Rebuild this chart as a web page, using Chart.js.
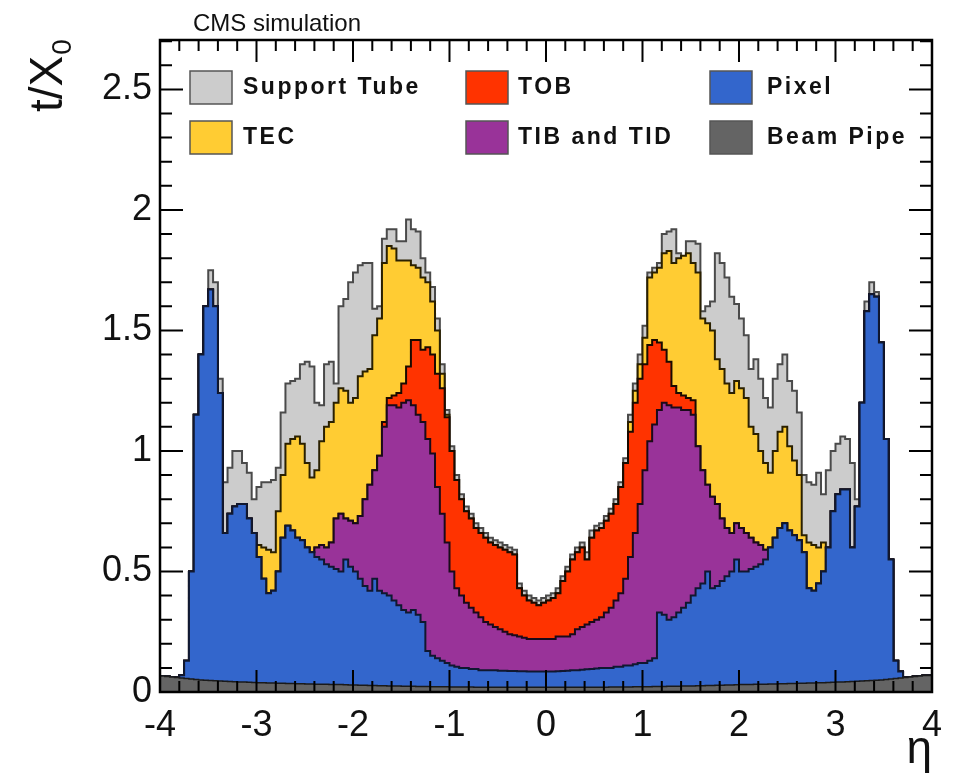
<!DOCTYPE html>
<html>
<head>
<meta charset="utf-8">
<script src="https://cdn.jsdelivr.net/npm/chart.js@4.4.1/dist/chart.umd.min.js"></script>
<style>
html,body{margin:0;padding:0;background:#fff;}
canvas{display:block;}
</style>
</head>
<body>
<canvas id="c" width="954" height="778"></canvas>
<script>
// ---- axis definition ----
const etaMin = -4, etaMax = 4, nBins = 160;
const xTickValues = [-4, -3, -2, -1, 0, 1, 2, 3, 4];
const xTickLabels = ['-4', '-3', '-2', '-1', '0', '1', '2', '3', '4'];
const yTickValues = [0, 0.5, 1, 1.5, 2, 2.5];
const yTickLabels = ['0', '0.5', '1', '1.5', '2', '2.5'];
const seriesNames = ['Beam Pipe', 'Pixel', 'TIB and TID', 'TOB', 'TEC', 'Support Tube'];

// ---- cumulative stack tops (t/X0) per eta bin of width 0.05 ----
const beamPipeTop = [
.068,.066,.064,.062,.060,.058,.056,.054,.052,.050,
.049,.048,.047,.046,.045,.044,.043,.042,.041,.040,
.039,.038,.038,.037,.037,.036,.036,.035,.035,.034,
.034,.033,.033,.032,.032,.032,.031,.031,.031,.030,
.029,.029,.028,.028,.027,.027,.026,.026,.025,.025,
.025,.024,.024,.024,.023,.023,.023,.022,.022,.022,
.022,.021,.021,.021,.021,.021,.020,.020,.020,.020,
.020,.020,.020,.020,.020,.020,.020,.020,.020,.020,
.020,.020,.020,.020,.020,.020,.020,.020,.020,.020,
.020,.020,.020,.020,.021,.021,.021,.021,.021,.022,
.022,.022,.022,.023,.023,.023,.024,.024,.024,.025,
.025,.025,.026,.026,.027,.027,.028,.028,.029,.029,
.030,.031,.031,.031,.032,.032,.032,.033,.033,.034,
.034,.035,.035,.036,.036,.037,.037,.038,.038,.039,
.040,.041,.042,.043,.044,.045,.046,.047,.048,.049,
.050,.052,.054,.056,.058,.060,.062,.064,.066,.068];

const pixelTop = [
.068,.066,.064,.062,.060,.070,.13,.50,1.15,1.40,
1.60,1.67,1.60,1.24,.66,.74,.77,.78,.78,.72,
.66,.56,.47,.41,.42,.50,.64,.69,.67,.64,
.63,.60,.58,.56,.55,.53,.52,.51,.50,.55,
.52,.50,.47,.44,.42,.47,.42,.41,.40,.38,
.36,.34,.33,.34,.32,.29,.17,.15,.14,.13,
.12,.11,.105,.10,.10,.095,.095,.09,.09,.09,
.09,.088,.088,.087,.087,.086,.086,.085,.085,.085,
.085,.085,.085,.086,.087,.088,.09,.09,.092,.094,
.095,.097,.10,.10,.10,.105,.105,.11,.11,.115,
.12,.12,.13,.14,.33,.32,.30,.31,.33,.35,
.37,.40,.43,.45,.50,.43,.44,.46,.48,.50,
.55,.50,.50,.51,.52,.53,.55,.60,.64,.68,
.70,.67,.65,.63,.58,.43,.42,.45,.50,.60,
.75,.82,.84,.84,.60,.77,1.20,1.58,1.65,1.64,
1.45,1.05,.55,.13,.085,.060,.062,.064,.066,.068];

const tibTidTop = [
.068,.066,.064,.062,.060,.070,.13,.50,1.15,1.40,
1.60,1.67,1.60,1.24,.66,.74,.77,.78,.78,.72,
.66,.56,.47,.41,.42,.50,.64,.69,.67,.64,
.63,.60,.58,.60,.61,.60,.62,.72,.74,.72,
.71,.70,.73,.80,.86,.92,.98,1.10,1.19,1.19,
1.18,1.20,1.21,1.19,1.15,1.12,1.05,.99,.85,.74,
.62,.50,.43,.40,.37,.35,.33,.31,.29,.28,
.27,.26,.25,.24,.235,.23,.225,.22,.22,.22,
.22,.22,.22,.23,.23,.23,.24,.26,.27,.28,
.29,.30,.31,.33,.35,.38,.41,.47,.56,.66,
.78,.92,1.04,1.11,1.17,1.20,1.19,1.18,1.18,1.17,
1.17,1.15,1.02,.92,.86,.81,.78,.72,.68,.66,
.70,.68,.66,.64,.62,.61,.59,.60,.64,.68,
.70,.67,.65,.63,.58,.43,.42,.45,.50,.60,
.75,.82,.84,.84,.60,.77,1.20,1.58,1.65,1.64,
1.45,1.05,.55,.13,.085,.060,.062,.064,.066,.068];

const tobTop = [
.068,.066,.064,.062,.060,.070,.13,.50,1.15,1.40,
1.60,1.67,1.60,1.24,.66,.74,.77,.78,.78,.72,
.66,.56,.47,.41,.42,.50,.64,.69,.67,.64,
.63,.60,.58,.60,.61,.60,.62,.72,.74,.72,
.71,.70,.73,.80,.86,.92,.98,1.12,1.22,1.23,
1.24,1.28,1.35,1.46,1.46,1.42,1.43,1.40,1.32,1.26,
1.14,1.00,.88,.80,.75,.72,.68,.66,.64,.62,
.61,.60,.59,.58,.57,.43,.40,.38,.37,.36,
.37,.38,.39,.41,.46,.50,.55,.58,.60,.55,
.64,.67,.68,.71,.74,.78,.85,.95,1.08,1.20,
1.30,1.36,1.44,1.46,1.45,1.42,1.37,1.27,1.24,1.23,
1.22,1.21,1.02,.92,.86,.81,.78,.72,.68,.66,
.70,.68,.66,.64,.62,.61,.59,.60,.64,.68,
.70,.67,.65,.63,.58,.43,.42,.45,.50,.60,
.75,.82,.84,.84,.60,.77,1.20,1.58,1.65,1.64,
1.45,1.05,.55,.13,.085,.060,.062,.064,.066,.068];

const tecTop = [
.068,.066,.064,.062,.060,.070,.13,.50,1.15,1.40,
1.60,1.67,1.60,1.24,.66,.74,.77,.78,.78,.72,
.66,.61,.60,.59,.58,.75,.90,1.03,1.05,1.06,
1.03,.95,.89,.92,1.04,1.10,1.12,1.20,1.26,1.25,
1.20,1.22,1.31,1.33,1.34,1.48,1.55,1.78,1.85,1.84,
1.79,1.79,1.79,1.77,1.76,1.72,1.70,1.62,1.50,1.32,
1.15,1.00,.88,.80,.75,.72,.68,.66,.64,.62,
.61,.60,.59,.58,.57,.43,.40,.38,.37,.36,
.37,.38,.39,.41,.46,.50,.55,.58,.60,.55,
.64,.67,.68,.71,.74,.78,.85,.95,1.12,1.25,
1.36,1.47,1.72,1.74,1.76,1.82,1.83,1.78,1.80,1.81,
1.82,1.78,1.74,1.55,1.53,1.50,1.38,1.34,1.28,1.24,
1.29,1.26,1.22,1.10,1.07,1.00,.95,.91,1.00,1.08,
1.10,1.02,.96,.90,.65,.62,.61,.60,.62,.60,
.75,.82,.84,.84,.60,.77,1.20,1.58,1.65,1.64,
1.45,1.05,.55,.13,.085,.060,.062,.064,.066,.068];

const supportTubeTop = [
.068,.066,.064,.062,.060,.070,.13,.50,1.15,1.40,
1.60,1.75,1.70,1.30,.87,.93,1.00,1.00,.95,.91,
.80,.85,.87,.87,.88,.93,1.16,1.28,1.29,1.30,
1.36,1.37,1.35,1.20,1.19,1.36,1.37,1.28,1.60,1.63,
1.70,1.74,1.77,1.78,1.78,1.59,1.60,1.88,1.92,1.92,
1.87,1.87,1.96,1.92,1.91,1.80,1.74,1.68,1.55,1.36,
1.17,1.02,.90,.82,.77,.74,.70,.68,.66,.64,
.63,.62,.61,.60,.59,.45,.42,.40,.39,.38,
.39,.40,.41,.43,.48,.52,.57,.60,.62,.58,
.67,.69,.70,.73,.76,.80,.87,.97,1.15,1.28,
1.40,1.52,1.74,1.76,1.78,1.90,1.91,1.92,1.82,1.80,
1.87,1.87,1.86,1.58,1.60,1.62,1.82,1.78,1.72,1.64,
1.61,1.55,1.48,1.34,1.38,1.30,1.22,1.18,1.30,1.36,
1.40,1.29,1.25,1.16,.90,.87,.86,.91,.82,.92,
1.00,1.03,1.06,1.05,.95,.80,1.20,1.62,1.70,1.66,
1.45,1.05,.55,.13,.085,.060,.062,.064,.066,.068];

// ---- build step-histogram points (bin low edges + closing edge) ----
const binWidth = (etaMax - etaMin) / nBins;
function histPoints(tops) {
  const pts = tops.map((v, i) => ({ x: etaMin + i * binWidth, y: v }));
  pts.push({ x: etaMax, y: tops[tops.length - 1] });
  return pts;
}

const styles = {
  'Beam Pipe':    { fill: '#646464', line: '#1a1a1a', w: 1.5 },
  'Pixel':        { fill: '#3366cc', line: '#101830', w: 2 },
  'TIB and TID':  { fill: '#993399', line: '#1a0a1a', w: 2 },
  'TOB':          { fill: '#ff3300', line: '#1a0a00', w: 2 },
  'TEC':          { fill: '#ffcc33', line: '#2a2000', w: 2 },
  'Support Tube': { fill: '#cccccc', line: '#4a4a4a', w: 2 }
};
const seriesData = [beamPipeTop, pixelTop, tibTidTop, tobTop, tecTop, supportTubeTop];

const datasets = seriesNames.map((name, k) => ({
  label: name,
  data: histPoints(seriesData[k]),
  stepped: 'after',
  fill: 'origin',
  backgroundColor: styles[name].fill,
  borderColor: styles[name].line,
  borderWidth: styles[name].w,
  borderJoinStyle: 'miter',
  pointRadius: 0,
  tension: 0
}));

// ---- decorations: frame, inward ticks, legend, header, y title ----
const legendSlots = {
  'Support Tube': [190, 71, 53], 'TOB': [466, 71, 52], 'Pixel': [710, 71, 57],
  'TEC': [190, 121, 53], 'TIB and TID': [466, 121, 52], 'Beam Pipe': [710, 121, 57]
};
const decor = {
  id: 'decor',
  afterDatasetsDraw(chart) {
    const { ctx, chartArea: a, scales: { x, y } } = chart;
    ctx.save();
    ctx.strokeStyle = '#000';
    ctx.lineWidth = 2;
    ctx.beginPath();
    for (let k = 0; k <= 27; k++) {
      const py = y.getPixelForValue(k / 10);
      const len = (k % 5 === 0) ? 23 : 12;
      ctx.moveTo(a.left, py); ctx.lineTo(a.left + len, py);
      ctx.moveTo(a.right, py); ctx.lineTo(a.right - len, py);
    }
    for (let k = 0; k <= 40; k++) {
      const px = x.getPixelForValue(etaMin + k * 0.2);
      const len = (k % 5 === 0) ? 22 : 11;
      ctx.moveTo(px, a.bottom); ctx.lineTo(px, a.bottom - len);
      ctx.moveTo(px, a.top); ctx.lineTo(px, a.top + len);
    }
    ctx.stroke();
    ctx.lineWidth = 2.5;
    ctx.strokeRect(a.left, a.top, a.right - a.left, a.bottom - a.top);

    // legend
    ctx.textBaseline = 'middle';
    ctx.textAlign = 'left';
    ctx.font = 'bold 23px "Liberation Sans", Arial, sans-serif';
    try { ctx.letterSpacing = '2.5px'; } catch (e) {}
    chart.data.datasets.forEach(ds => {
      const s = legendSlots[ds.label];
      if (!s) return;
      ctx.fillStyle = ds.backgroundColor;
      ctx.fillRect(s[0], s[1], 42, 33);
      ctx.lineWidth = 1.5;
      ctx.strokeStyle = '#555';
      ctx.strokeRect(s[0], s[1], 42, 33);
      ctx.fillStyle = '#111';
      ctx.fillText(ds.label, s[0] + s[2], s[1] + 17);
    });
    try { ctx.letterSpacing = '0px'; } catch (e) {}

    // header
    ctx.fillStyle = '#111';
    ctx.font = '24px "Liberation Sans", Arial, sans-serif';
    ctx.textBaseline = 'alphabetic';
    ctx.fillText('CMS simulation', 193, 31);

    // y axis title t/X0 (rotated, at top of axis)
    ctx.translate(62, 112);
    ctx.rotate(-Math.PI / 2);
    ctx.font = '46px "Liberation Sans", Arial, sans-serif';
    ctx.fillText('t/X', 0, 0);
    const w = ctx.measureText('t/X').width;
    ctx.font = '28px "Liberation Sans", Arial, sans-serif';
    ctx.fillText('0', w + 1, 9);
    ctx.restore();
  }
};

new Chart(document.getElementById('c'), {
  type: 'line',
  data: { datasets },
  options: {
    responsive: false,
    animation: false,
    events: [],
    layout: { padding: { top: 40, right: 20, left: 0, bottom: 0 } },
    plugins: { legend: { display: false }, tooltip: { enabled: false }, title: { display: false } },
    scales: {
      x: {
        type: 'linear', min: etaMin, max: etaMax,
        grid: { display: false, drawTicks: false },
        border: { display: false },
        afterBuildTicks: s => { s.ticks = xTickValues.map(v => ({ value: v })); },
        afterFit: s => { s.height = 86; },
        ticks: {
          color: '#111', padding: 12, maxRotation: 0, autoSkip: false,
          font: { family: '"Liberation Sans", Arial, sans-serif', size: 36 },
          callback: (v, i) => xTickLabels[i]
        },
        title: {
          display: true, text: 'η', align: 'end', color: '#111', padding: 0,
          font: { family: '"Liberation Sans", Arial, sans-serif', size: 46 }
        }
      },
      y: {
        type: 'linear', min: 0, max: 2.705,
        grid: { display: false, drawTicks: false },
        border: { display: false },
        afterBuildTicks: s => { s.ticks = yTickValues.map(v => ({ value: v })); },
        afterFit: s => { s.width = 160; },
        ticks: {
          color: '#111', padding: 8, autoSkip: false,
          font: { family: '"Liberation Sans", Arial, sans-serif', size: 36 },
          callback: (v, i) => yTickLabels[i]
        }
      }
    }
  },
  plugins: [decor]
});
</script>
</body>
</html>
